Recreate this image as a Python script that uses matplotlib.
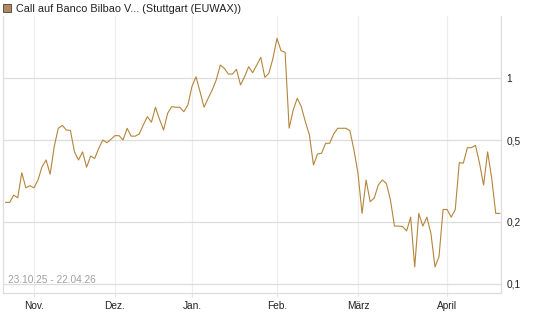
import matplotlib
matplotlib.use("Agg")
from matplotlib import pyplot as plt
from matplotlib.patches import Rectangle
import numpy as np
import pandas as pd

# trading days (Stuttgart) 23.10.25 - 22.04.26
holidays = ["2025-12-24", "2025-12-25", "2025-12-26", "2025-12-31",
            "2026-01-01", "2026-04-03", "2026-04-06"]
dates = pd.bdate_range("2025-10-23", "2026-04-22")
dates = dates[~dates.isin(pd.to_datetime(holidays))]

# closing prices
prices = [0.249, 0.249, 0.270, 0.262, 0.347, 0.293, 0.300, 0.293, 0.320, 0.371,
          0.400, 0.341, 0.464, 0.570, 0.589, 0.559, 0.557, 0.438, 0.400, 0.438,
          0.369, 0.418, 0.407, 0.456, 0.500, 0.485, 0.504, 0.525, 0.525, 0.500,
          0.570, 0.522, 0.522, 0.535, 0.592, 0.649, 0.610, 0.721, 0.630, 0.559,
          0.674, 0.726, 0.721, 0.721, 0.686, 0.740, 0.908, 1.014, 0.858, 0.721,
          0.797, 0.874, 0.978, 1.156, 1.114, 1.045, 1.045, 1.102, 0.925, 1.014,
          1.134, 1.061, 1.156, 1.260, 1.008, 1.054, 1.246, 1.558, 1.357, 1.333,
          0.571, 0.699, 0.797, 0.726, 0.614, 0.529, 0.378, 0.428, 0.431, 0.482,
          0.482, 0.535, 0.570, 0.570, 0.570, 0.555, 0.447, 0.344, 0.220, 0.320,
          0.251, 0.261, 0.302, 0.320, 0.308, 0.256, 0.191, 0.191, 0.190, 0.181,
          0.211, 0.121, 0.220, 0.191, 0.211, 0.176, 0.121, 0.136, 0.230, 0.230,
          0.211, 0.229, 0.388, 0.386, 0.459, 0.459, 0.471, 0.386, 0.302, 0.438,
          0.326, 0.220, 0.220]

month_labels = ["Nov.", "Dez.", "Jan.", "Feb.", "März", "April"]
y_ticks = [0.1, 0.2, 0.5, 1]
y_labels = ["0,1", "0,2", "0,5", "1"]
title = "Call auf Banco Bilbao V... (Stuttgart (EUWAX))"
range_text = "23.10.25 - 22.04.26"

line_col = "#b5853c"

plt.rcParams["font.family"] = ["Liberation Sans", "DejaVu Sans"]

fig = plt.figure(figsize=(5.45, 3.27), dpi=100)
ax = fig.add_axes([3 / 545, 34 / 327, 498 / 545, 277 / 327])

x = np.arange(len(dates))
ax.plot(x, prices, "-", color=line_col, lw=0.8)

ax.set_yscale("log")
ax.set_ylim(0.0904, 2.0)
ax.set_xlim(-0.64, 122.3)

# month starts
month_pos = []
for m in pd.period_range("2025-11", "2026-04", freq="M"):
    idx = np.where((dates.year == m.year) & (dates.month == m.month))[0]
    month_pos.append(idx[0])

ax.set_xticks(month_pos)
ax.set_xticklabels(month_labels, fontsize=7.3, color="#222222")
ax.set_yticks(y_ticks)
ax.set_yticklabels(y_labels, fontsize=7.3, color="#222222")
ax.yaxis.set_minor_locator(matplotlib.ticker.NullLocator())
ax.yaxis.tick_right()
ax.tick_params(axis="y", length=0, pad=4)
ax.tick_params(axis="x", length=3, width=0.8, color="#e6e6e6", pad=3)

for xp in month_pos:
    ax.axvline(xp, color="#eeeeee", lw=0.9, zorder=0)
for yv in y_ticks:
    ax.axhline(yv, color="#dddddd", lw=0.9, zorder=0)

ax.spines["top"].set_visible(False)
for side in ["left", "bottom", "right"]:
    ax.spines[side].set_color("#dddddd")
    ax.spines[side].set_linewidth(0.9)

ax.text(0.01, 0.028, range_text, transform=ax.transAxes, fontsize=7.3,
        color="#a0a0a0", ha="left", va="bottom")

# legend square + title
fig.patches.append(Rectangle((3 / 545, 1 - 12 / 327), 8 / 545, 8 / 327,
                             transform=fig.transFigure, facecolor="#b08a5c",
                             edgecolor="#555555", lw=0.7))
fig.text(16 / 545, 1 - 8.5 / 327, title, fontsize=7.8, color="#222222",
         ha="left", va="center")

fig.savefig("out.png", dpi=100)
